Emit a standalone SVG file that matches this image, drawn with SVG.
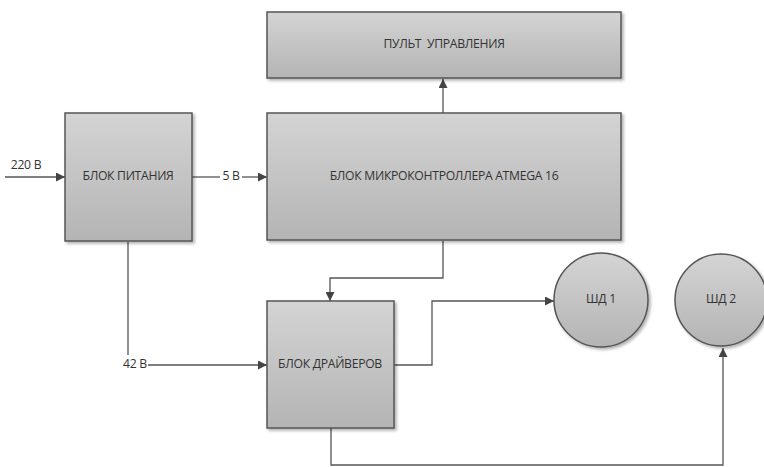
<svg xmlns="http://www.w3.org/2000/svg" width="764" height="467" viewBox="0 0 764 467">
<defs>
<linearGradient id="g" x1="0" y1="0" x2="0" y2="1">
<stop offset="0" stop-color="#d4d4d4"/>
<stop offset="1" stop-color="#b4b4b4"/>
</linearGradient>
<filter id="sh" x="-10%" y="-10%" width="130%" height="130%">
<feDropShadow dx="2" dy="2" stdDeviation="1.5" flood-color="#000" flood-opacity="0.3"/>
</filter>
<marker id="arr" viewBox="0 0 10 10" refX="10" refY="5" markerWidth="9" markerHeight="9" markerUnits="userSpaceOnUse" orient="auto">
<path d="M0,0 L10,5 L0,10 z" fill="#444"/>
</marker>
</defs>
<style>
.box{fill:url(#g);stroke:#555;stroke-width:1.5;filter:url(#sh)}
.t{font-family:"Open Sans","DejaVu Sans",sans-serif;font-size:12.2px;fill:#333;text-anchor:middle;dominant-baseline:middle;letter-spacing:-0.3px}
.c{fill:none;stroke:#555;stroke-width:1.3}
</style>
<rect width="764" height="467" fill="#fff"/>
<g id="connectors">
<path class="c" d="M5,177 H65" marker-end="url(#arr)"/>
<path class="c" d="M192,177 H220"/>
<path class="c" d="M242,177 H267" marker-end="url(#arr)"/>
<path class="c" d="M443,113 V79" marker-end="url(#arr)"/>
<path class="c" d="M443,241 V278 H330 V301" marker-end="url(#arr)"/>
<path class="c" d="M128,242 V355"/>
<path class="c" d="M148,365 H267" marker-end="url(#arr)"/>
<path class="c" d="M394,365 H432 V301 H554" marker-end="url(#arr)"/>
<path class="c" d="M331,428 V465 H723 V348" marker-end="url(#arr)"/>
<text class="t" x="26" y="166">220 В</text>
<text class="t" x="231" y="177">5 В</text>
<text class="t" x="135" y="365">42 В</text>
</g>
<g id="pult">
<rect class="box" x="267" y="12" width="354" height="66"/>
<text class="t" x="444" y="45" xml:space="preserve">ПУЛЬТ  УПРАВЛЕНИЯ</text>
</g>
<g id="power">
<rect class="box" x="65" y="113" width="127" height="128"/>
<text class="t" x="128" y="177">БЛОК ПИТАНИЯ</text>
</g>
<g id="mcu">
<rect class="box" x="267" y="113" width="354" height="127"/>
<text class="t" x="444" y="177">БЛОК МИКРОКОНТРОЛЛЕРА ATMEGA 16</text>
</g>
<g id="drivers">
<rect class="box" x="267" y="301" width="127" height="127"/>
<text class="t" x="330" y="365">БЛОК ДРАЙВЕРОВ</text>
</g>
<g id="sd1">
<circle class="box" cx="601" cy="300" r="47"/>
<text class="t" x="601" y="300">ШД 1</text>
</g>
<g id="sd2">
<circle class="box" cx="721" cy="300" r="46"/>
<text class="t" x="721" y="300">ШД 2</text>
</g>
</svg>
